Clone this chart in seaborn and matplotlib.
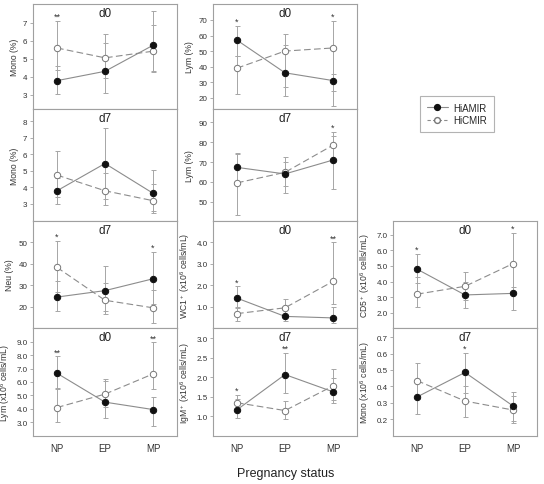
import numpy as np
import pandas as pd
import seaborn as sns
import matplotlib
matplotlib.use('Agg')
import matplotlib.pyplot as plt
from matplotlib.lines import Line2D

status = ['NP', 'EP', 'MP']
groups = ['HiAMIR', 'HiCMIR']

# Mono (%) d0
mono_pct_d0_A = [3.78, 4.30, 5.75]
mono_pct_d0_A_lo = [3.05, 3.10, 4.25]
mono_pct_d0_A_hi = [4.62, 5.90, 7.65]
mono_pct_d0_C = [5.60, 5.05, 5.42]
mono_pct_d0_C_lo = [4.35, 3.95, 4.30]
mono_pct_d0_C_hi = [7.10, 6.40, 6.90]
mono_pct_d0_stars = ['**', '', '']

# Lym (%) d0
lym_pct_d0_A = [57, 36, 31]
lym_pct_d0_A_lo = [47, 21, 24]
lym_pct_d0_A_hi = [66, 54, 35]
lym_pct_d0_C = [39, 50, 52]
lym_pct_d0_C_lo = [22.5, 27, 14.5]
lym_pct_d0_C_hi = [47, 61, 69.5]
lym_pct_d0_stars = ['*', '', '*']

# Mono (%) d7
mono_pct_d7_A = [3.80, 5.45, 3.65]
mono_pct_d7_A_lo = [2.97, 3.30, 2.60]
mono_pct_d7_A_hi = [4.60, 7.60, 5.05]
mono_pct_d7_C = [4.75, 3.80, 3.20]
mono_pct_d7_C_lo = [3.40, 2.92, 2.45]
mono_pct_d7_C_hi = [6.20, 4.90, 4.20]
mono_pct_d7_stars = ['', '', '']

# Lym (%) d7
lym_pct_d7_A = [67.3, 64, 71]
lym_pct_d7_A_lo = [60, 54.5, 56.5]
lym_pct_d7_A_hi = [74.5, 72.6, 83]
lym_pct_d7_C = [59.5, 64.8, 78.5]
lym_pct_d7_C_lo = [43.5, 58, 70]
lym_pct_d7_C_hi = [74, 70, 85]
lym_pct_d7_stars = ['', '', '*']

# Neu (%) d7
neu_pct_d7_A = [24.5, 27.5, 33]
neu_pct_d7_A_lo = [18, 16.5, 21.5]
neu_pct_d7_A_hi = [32, 39, 45.5]
neu_pct_d7_C = [38.3, 23, 19.5]
neu_pct_d7_C_lo = [27, 18, 12.5]
neu_pct_d7_C_hi = [50.5, 31, 28]
neu_pct_d7_stars = ['*', '', '*']

# WC1+ d0
wc1_d0_A = [1.40, 0.55, 0.48]
wc1_d0_A_lo = [0.95, 0.35, 0.25]
wc1_d0_A_hi = [1.95, 0.90, 1.00]
wc1_d0_C = [0.68, 0.95, 2.18]
wc1_d0_C_lo = [0.35, 0.55, 1.15]
wc1_d0_C_hi = [1.00, 1.38, 4.00]
wc1_d0_stars = ['*', '', '**']

# CD5+ d0
cd5_d0_A = [4.80, 3.15, 3.25]
cd5_d0_A_lo = [3.90, 2.30, 2.20]
cd5_d0_A_hi = [5.75, 4.00, 3.65]
cd5_d0_C = [3.20, 3.70, 5.15]
cd5_d0_C_lo = [2.40, 2.80, 3.40]
cd5_d0_C_hi = [4.30, 4.60, 7.10]
cd5_d0_stars = ['*', '', '*']

# Lym (x10^6 cells/mL) d0
lym_abs_d0_A = [6.65, 4.50, 3.95]
lym_abs_d0_A_lo = [5.50, 3.30, 2.75]
lym_abs_d0_A_hi = [7.90, 6.10, 4.85]
lym_abs_d0_C = [4.10, 5.10, 6.60]
lym_abs_d0_C_lo = [3.05, 4.15, 5.50]
lym_abs_d0_C_hi = [5.55, 6.20, 8.95]
lym_abs_d0_stars = ['**', '', '**']

# IgM+ d7
igm_d7_A = [1.17, 2.07, 1.63]
igm_d7_A_lo = [0.97, 1.60, 1.35]
igm_d7_A_hi = [1.45, 2.63, 1.97]
igm_d7_C = [1.35, 1.15, 1.78]
igm_d7_C_lo = [1.15, 0.93, 1.42]
igm_d7_C_hi = [1.55, 1.40, 2.20]
igm_d7_stars = ['*', '**', '']

# Mono (x10^6 cells/mL) d7
mono_abs_d7_A = [0.335, 0.485, 0.280]
mono_abs_d7_A_lo = [0.230, 0.360, 0.190]
mono_abs_d7_A_hi = [0.440, 0.605, 0.365]
mono_abs_d7_C = [0.435, 0.310, 0.255]
mono_abs_d7_C_lo = [0.320, 0.215, 0.175]
mono_abs_d7_C_hi = [0.545, 0.405, 0.340]
mono_abs_d7_stars = ['', '*', '']

unit = ' (x10$^6$ cells/mL)'
panels = [
    (0, 0, 'Mono (%)', 'd0', mono_pct_d0_A, mono_pct_d0_A_lo, mono_pct_d0_A_hi,
     mono_pct_d0_C, mono_pct_d0_C_lo, mono_pct_d0_C_hi, mono_pct_d0_stars,
     (2.2, 8.05), [3, 4, 5, 6, 7], '{:.0f}'),
    (0, 1, 'Lym (%)', 'd0', lym_pct_d0_A, lym_pct_d0_A_lo, lym_pct_d0_A_hi,
     lym_pct_d0_C, lym_pct_d0_C_lo, lym_pct_d0_C_hi, lym_pct_d0_stars,
     (12.7, 80.3), [20, 30, 40, 50, 60, 70], '{:.0f}'),
    (1, 0, 'Mono (%)', 'd7', mono_pct_d7_A, mono_pct_d7_A_lo, mono_pct_d7_A_hi,
     mono_pct_d7_C, mono_pct_d7_C_lo, mono_pct_d7_C_hi, mono_pct_d7_stars,
     (1.97, 8.75), [3, 4, 5, 6, 7, 8], '{:.0f}'),
    (1, 1, 'Lym (%)', 'd7', lym_pct_d7_A, lym_pct_d7_A_lo, lym_pct_d7_A_hi,
     lym_pct_d7_C, lym_pct_d7_C_lo, lym_pct_d7_C_hi, lym_pct_d7_stars,
     (40.3, 96.7), [50, 60, 70, 80, 90], '{:.0f}'),
    (2, 0, 'Neu (%)', 'd7', neu_pct_d7_A, neu_pct_d7_A_lo, neu_pct_d7_A_hi,
     neu_pct_d7_C, neu_pct_d7_C_lo, neu_pct_d7_C_hi, neu_pct_d7_stars,
     (10.1, 59.9), [20, 30, 40, 50], '{:.0f}'),
    (2, 1, 'WC1$^+$' + unit, 'd0', wc1_d0_A, wc1_d0_A_lo, wc1_d0_A_hi,
     wc1_d0_C, wc1_d0_C_lo, wc1_d0_C_hi, wc1_d0_stars,
     (0.01, 4.99), [1.0, 2.0, 3.0, 4.0], '{:.1f}'),
    (2, 2, 'CD5$^+$' + unit, 'd0', cd5_d0_A, cd5_d0_A_lo, cd5_d0_A_hi,
     cd5_d0_C, cd5_d0_C_lo, cd5_d0_C_hi, cd5_d0_stars,
     (1.04, 7.87), [2.0, 3.0, 4.0, 5.0, 6.0, 7.0], '{:.1f}'),
    (3, 0, 'Lym' + unit, 'd0', lym_abs_d0_A, lym_abs_d0_A_lo, lym_abs_d0_A_hi,
     lym_abs_d0_C, lym_abs_d0_C_lo, lym_abs_d0_C_hi, lym_abs_d0_stars,
     (1.98, 10.02), [3.0, 4.0, 5.0, 6.0, 7.0, 8.0, 9.0], '{:.1f}'),
    (3, 1, 'IgM$^+$' + unit, 'd7', igm_d7_A, igm_d7_A_lo, igm_d7_A_hi,
     igm_d7_C, igm_d7_C_lo, igm_d7_C_hi, igm_d7_stars,
     (0.5, 3.26), [1.0, 1.5, 2.0, 2.5, 3.0], '{:.1f}'),
    (3, 2, 'Mono' + unit, 'd7', mono_abs_d7_A, mono_abs_d7_A_lo, mono_abs_d7_A_hi,
     mono_abs_d7_C, mono_abs_d7_C_lo, mono_abs_d7_C_hi, mono_abs_d7_stars,
     (0.096, 0.757), [0.2, 0.3, 0.4, 0.5, 0.6, 0.7], '{:.1f}'),
]

sns.set_style('white')
plt.rcParams['font.family'] = ['Liberation Sans', 'DejaVu Sans']
plt.rcParams['mathtext.fontset'] = 'custom'
plt.rcParams['mathtext.rm'] = 'Liberation Sans'
plt.rcParams['mathtext.it'] = 'Liberation Sans'

W, H = 544, 485
fig = plt.figure(figsize=(W / 100, H / 100), dpi=100)

col_left = [33, 213, 393]
row_edges = [(5, 110), (110, 222), (222, 329), (329, 437)]
pw = 144

line_col = '#8c8c8c'
err_col = '#a6a6a6'
frame_col = '#a0a0a0'

x = np.arange(3)
for (r, c, ylab, title, A, A_lo, A_hi, C, C_lo, C_hi, stars, ylim, yticks, fmt) in panels:
    top, bot = row_edges[r]
    ax = fig.add_axes([col_left[c] / W, 1 - bot / H, pw / W, (bot - top) / H])
    for vals, lo, hi in ((A, A_lo, A_hi), (C, C_lo, C_hi)):
        v = np.array(vals)
        ax.errorbar(x, v, yerr=[v - np.array(lo), np.array(hi) - v], fmt='none',
                    ecolor=err_col, elinewidth=0.7, capsize=1.8, capthick=0.7, zorder=1)
    dfA = pd.DataFrame({'x': x, 'value': A})
    dfC = pd.DataFrame({'x': x, 'value': C})
    sns.lineplot(data=dfC, x='x', y='value', ax=ax, color=line_col, lw=0.8,
                 linestyle=(0, (6, 3)), marker='o', markersize=4.6,
                 markerfacecolor='white', markeredgecolor='#777777',
                 markeredgewidth=0.7, zorder=3)
    sns.lineplot(data=dfA, x='x', y='value', ax=ax, color=line_col, lw=0.8,
                 marker='o', markersize=4.6, markerfacecolor='#111111',
                 markeredgecolor='#111111', markeredgewidth=0.7, zorder=4)
    span = ylim[1] - ylim[0]
    for i, s in enumerate(stars):
        if s:
            ytop = max(A_hi[i], C_hi[i])
            ax.text(i, ytop, s, ha='center', va='bottom',
                    fontsize=6.5, color='#333333')
    ax.text(0.5, 0.97, title, transform=ax.transAxes, ha='center', va='top',
            fontsize=8.5, color='#222222')
    ax.set_xlim(-0.5, 2.5)
    ax.set_ylim(*ylim)
    ax.set_yticks(yticks)
    ax.set_yticklabels([fmt.format(t) for t in yticks])
    ax.set_ylabel(ylab, fontsize=6.2, color='#333333', labelpad=3)
    ax.set_xlabel('')
    ax.set_xticks(x)
    if r == 3:
        ax.set_xticklabels(status)
        ax.tick_params(axis='x', labelsize=7, length=2, color=frame_col,
                       labelcolor='#333333', pad=3)
    else:
        ax.set_xticklabels([])
        ax.tick_params(axis='x', length=0)
    ax.tick_params(axis='y', labelsize=5.8, length=2, width=0.6, color=frame_col,
                   labelcolor='#333333', pad=2, left=True, direction='out')
    for sp in ax.spines.values():
        sp.set_color(frame_col)
        sp.set_linewidth(0.8)

handles = [
    Line2D([], [], color=line_col, lw=0.8, marker='o', markersize=4.2,
           markerfacecolor='#111111', markeredgecolor='#111111'),
    Line2D([], [], color=line_col, lw=0.8, linestyle=(0, (3, 2)), marker='o',
           markersize=4.2, markerfacecolor='white', markeredgecolor='#777777'),
]
leg = fig.legend(handles, groups, loc='center', bbox_to_anchor=(457 / W, 1 - 115 / H),
                 fontsize=7, frameon=True, fancybox=False, handlelength=2.2,
                 borderpad=0.7, labelspacing=0.3, handletextpad=0.6)
leg.get_frame().set_edgecolor(frame_col)
leg.get_frame().set_linewidth(0.8)

fig.text(286 / W, 1 - 474 / H, 'Pregnancy status', ha='center', va='center',
         fontsize=9, color='#222222')

fig.savefig('out.png', dpi=100)
